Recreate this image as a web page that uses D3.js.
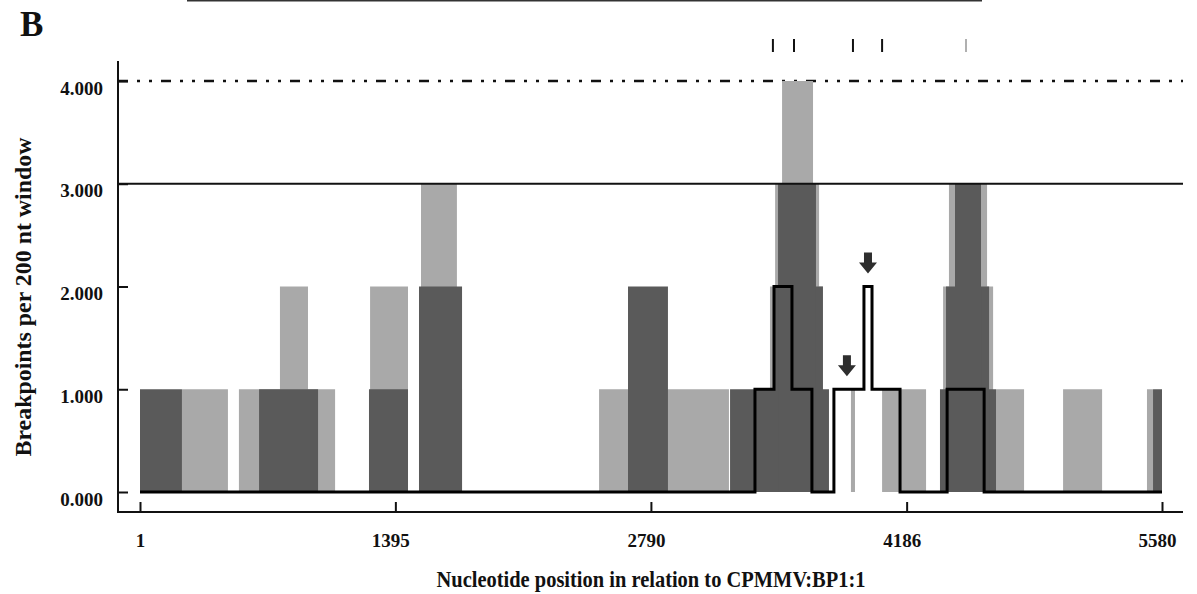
<!DOCTYPE html>
<html>
<head>
<meta charset="utf-8">
<script src="https://cdn.jsdelivr.net/npm/d3@7"></script>
<style>
  body { margin: 0; background: #fff; }
  text { font-family: "Liberation Serif", "Times New Roman", serif; font-weight: bold; fill: #111; }
</style>
</head>
<body>
<svg id="chart" width="1197" height="594"></svg>
<script>
// Breakpoint counts per 200 nt window: [start nt, end nt, breakpoints]
const lightBars = [
  [230, 481, 1], [541, 1066, 1], [765, 918, 2], [1257, 1464, 2],
  [1524, 1759, 1], [1535, 1731, 3], [2507, 3216, 1],
  [3440, 3729, 2], [3468, 3708, 3], [3506, 3675, 4],
  [3882, 3904, 1], [4052, 4292, 1],
  [4385, 4658, 2], [4417, 4625, 3], [4674, 4827, 1],
  [5040, 5253, 1], [5498, 5531, 1]
];
const darkBars = [
  [1, 230, 1], [651, 973, 1], [1251, 1464, 1], [1524, 1759, 2],
  [2665, 2883, 2], [3222, 3762, 1], [3462, 3729, 2], [3484, 3691, 3],
  [4368, 4674, 1], [4401, 4636, 2], [4450, 4592, 3], [5531, 5580, 1]
];
// Step outline: position where each level starts, and the level
const stepPos = [1, 3358, 3462, 3560, 3669, 3789, 3953, 3997, 4150, 4407, 4609, 5580];
const stepVal = [0, 1, 2, 1, 0, 1, 2, 1, 0, 1, 0, 0];
// Arrows marking breakpoints of interest
const arrowPos = [3860, 3975];
const arrowVal = [1, 2];
// Marks along the top of the panel
const topMarks = [3456, 3571, 3893, 4052, 4510];
const topMarkGrey = [false, false, false, false, true];

const xTicks = [1, 1395, 2790, 4186, 5580];
const yTicks = [0, 1, 2, 3, 4];
const thresholdSolid = 3;
const thresholdDashed = 4;

const svg = d3.select("#chart");
const x = d3.scaleLinear().domain([1, 5580]).range([140, 1162]);
const y = d3.scaleLinear().domain([0, 4]).range([492, 81]);

const LIGHT = "#a9a9a9", DARK = "#5a5a5a";

// top rule left over from the panel above
svg.append("line").attr("x1", 187).attr("x2", 982).attr("y1", 0.5).attr("y2", 0.5)
  .attr("stroke", "#333").attr("stroke-width", 2);

// panel letter
svg.append("text").attr("x", 20).attr("y", 36).attr("font-size", 35).text("B");

// top marks
svg.append("g").selectAll("line").data(topMarks).join("line")
  .attr("x1", d => x(d)).attr("x2", d => x(d))
  .attr("y1", 39).attr("y2", 52)
  .attr("stroke", (d, i) => topMarkGrey[i] ? "#b0b0b0" : "#111")
  .attr("stroke-width", 2);

// threshold lines
svg.append("line").attr("x1", 118).attr("x2", 1183)
  .attr("y1", y(thresholdDashed)).attr("y2", y(thresholdDashed))
  .attr("stroke", "#111").attr("stroke-width", 2.5)
  .attr("stroke-dasharray", "10,9,3,9,3,9");

// bars
function drawBars(data, color) {
  svg.append("g").selectAll("rect").data(data).join("rect")
    .attr("x", d => x(d[0]))
    .attr("width", d => x(d[1]) - x(d[0]))
    .attr("y", d => y(d[2]))
    .attr("height", d => y(0) - y(d[2]))
    .attr("fill", color);
}
drawBars(lightBars, LIGHT);
drawBars(darkBars, DARK);

svg.append("line").attr("x1", 118).attr("x2", 1183)
  .attr("y1", y(thresholdSolid)).attr("y2", y(thresholdSolid))
  .attr("stroke", "#111").attr("stroke-width", 2);

// step outline
const stepPts = stepPos.map((p, i) => [p, stepVal[i]]);
svg.append("path")
  .attr("d", d3.line().x(d => x(d[0])).y(d => y(d[1])).curve(d3.curveStepAfter)(stepPts))
  .attr("fill", "none").attr("stroke", "#000").attr("stroke-width", 3)
  .attr("stroke-linejoin", "miter");

// arrows
svg.append("g").selectAll("path").data(arrowPos).join("path")
  .attr("d", (d, i) => {
    const cx = x(d), tip = y(arrowVal[i]) - 13;
    return `M${cx - 4},${tip - 21} L${cx + 4},${tip - 21} L${cx + 4},${tip - 11} L${cx + 9},${tip - 11}
            L${cx},${tip} L${cx - 9},${tip - 11} L${cx - 4},${tip - 11} Z`;
  })
  .attr("fill", "#2e2e2e");

// axes
const xAxis = svg.append("g").attr("transform", "translate(0,512)")
  .call(d3.axisBottom(x).tickValues(xTicks).tickSize(-10).tickPadding(22).tickFormat(d3.format("d")));
xAxis.select(".domain").remove();
xAxis.selectAll(".tick line").attr("stroke", "#111").attr("stroke-width", 2);
xAxis.selectAll(".tick text").attr("font-size", 19).attr("font-family", null)
  .attr("dx", d => d === 1 ? 0 : -5);

const yAxis = svg.append("g").attr("transform", "translate(118,0)")
  .call(d3.axisLeft(y).tickValues(yTicks).tickSize(-10).tickPadding(15).tickFormat(d3.format(".3f")));
yAxis.select(".domain").remove();
yAxis.selectAll(".tick line").attr("stroke", "#111").attr("stroke-width", 2);
yAxis.selectAll(".tick text").attr("font-size", 19).attr("font-family", null).attr("y", 7);

svg.append("line").attr("x1", 118).attr("x2", 1183).attr("y1", 512).attr("y2", 512)
  .attr("stroke", "#111").attr("stroke-width", 2);
svg.append("line").attr("x1", 118).attr("x2", 118).attr("y1", 61).attr("y2", 513)
  .attr("stroke", "#111").attr("stroke-width", 2);

// axis titles
svg.append("text").attr("x", 651).attr("y", 587).attr("text-anchor", "middle")
  .attr("font-size", 23).attr("textLength", 429).attr("lengthAdjust", "spacingAndGlyphs")
  .text("Nucleotide position in relation to CPMMV:BP1:1");
svg.append("text").attr("transform", "translate(31,297) rotate(-90)").attr("text-anchor", "middle")
  .attr("font-size", 23).attr("textLength", 319).attr("lengthAdjust", "spacingAndGlyphs")
  .text("Breakpoints per 200 nt window");
</script>
</body>
</html>
